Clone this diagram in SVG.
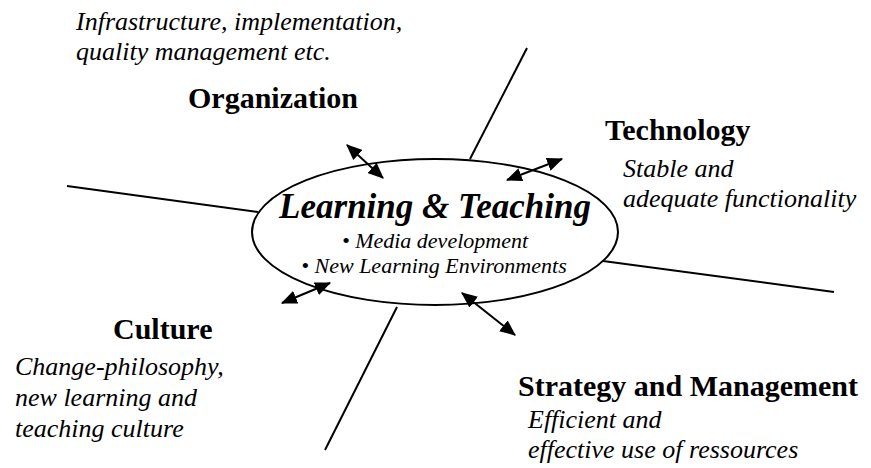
<svg xmlns="http://www.w3.org/2000/svg" width="871" height="468" viewBox="0 0 871 468">
<defs>
<marker id="ah" viewBox="0 0 14 12" refX="13" refY="6" markerWidth="8" markerHeight="7" orient="auto-start-reverse">
<path d="M0,0 L14,6 L0,12 Z" fill="#000"/>
</marker>
</defs>
<g id="connectors" stroke="#000" stroke-width="2" fill="none">
<line x1="470" y1="159" x2="527" y2="48"/>
<line x1="258" y1="212" x2="67" y2="186"/>
<line x1="603" y1="261" x2="834" y2="292"/>
<line x1="397" y1="307" x2="325" y2="450"/>
<line x1="347" y1="145" x2="383" y2="178" marker-start="url(#ah)" marker-end="url(#ah)"/>
<line x1="562" y1="159" x2="507" y2="180" marker-start="url(#ah)" marker-end="url(#ah)"/>
<line x1="282" y1="303" x2="330" y2="283" marker-start="url(#ah)" marker-end="url(#ah)"/>
<line x1="462" y1="293" x2="515" y2="335" marker-start="url(#ah)" marker-end="url(#ah)"/>
</g>
<g id="center">
<ellipse cx="435" cy="232" rx="183" ry="73" fill="none" stroke="#000" stroke-width="2"/>
<text x="435" y="218" text-anchor="middle" font-family="Liberation Serif, serif" font-style="italic" font-weight="bold" font-size="35">Learning &amp; Teaching</text>
<text x="435" y="248" text-anchor="middle" font-family="Liberation Serif, serif" font-style="italic" font-size="22">&#8226; Media development</text>
<text x="434" y="273" text-anchor="middle" font-family="Liberation Serif, serif" font-style="italic" font-size="22">&#8226; New Learning Environments</text>
</g>
<g id="organization">
<text x="76" y="30" font-family="Liberation Serif, serif" font-style="italic" font-size="26">Infrastructure, implementation,</text>
<text x="76" y="60" font-family="Liberation Serif, serif" font-style="italic" font-size="26">quality management etc.</text>
<text x="188" y="108" font-family="Liberation Serif, serif" font-weight="bold" font-size="30">Organization</text>
</g>
<g id="technology">
<text x="605" y="140" font-family="Liberation Serif, serif" font-weight="bold" font-size="30">Technology</text>
<text x="623" y="177" font-family="Liberation Serif, serif" font-style="italic" font-size="26">Stable and</text>
<text x="623" y="207" font-family="Liberation Serif, serif" font-style="italic" font-size="26">adequate functionality</text>
</g>
<g id="culture">
<text x="113" y="339" font-family="Liberation Serif, serif" font-weight="bold" font-size="30">Culture</text>
<text x="15" y="375" font-family="Liberation Serif, serif" font-style="italic" font-size="26">Change-philosophy,</text>
<text x="15" y="406" font-family="Liberation Serif, serif" font-style="italic" font-size="26">new learning and</text>
<text x="15" y="437" font-family="Liberation Serif, serif" font-style="italic" font-size="26">teaching culture</text>
</g>
<g id="strategy">
<text x="518" y="396" font-family="Liberation Serif, serif" font-weight="bold" font-size="30">Strategy and Management</text>
<text x="528" y="428" font-family="Liberation Serif, serif" font-style="italic" font-size="26">Efficient and</text>
<text x="528" y="458" font-family="Liberation Serif, serif" font-style="italic" font-size="26">effective use of ressources</text>
</g>
</svg>
